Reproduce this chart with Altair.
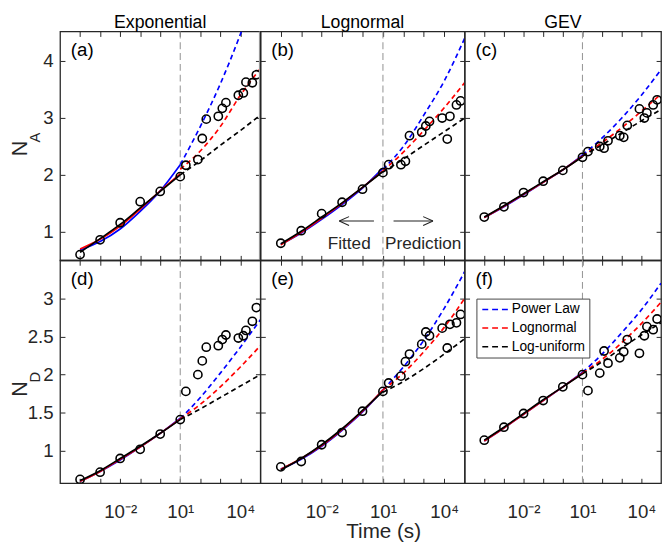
import altair as alt
import pandas as pd

FONT = "Liberation Sans"

# ---------------- data ----------------
MODELS = ["Power Law", "Lognormal", "Log-uniform"]
MODEL_COLORS = ["#0000ff", "#ff0000", "#000000"]

# observation times as powers of ten (same for every panel)
OBS_EXP = [-4, -3, -2, -1, 0, 1, 1.28, 1.88, 2.1, 2.3, 2.9, 3.1, 3.28, 3.9, 4.15, 4.28, 4.6, 4.8]
FIT_EXP = [-4, -3, -2, -1, 0, 1]
PRED_EXP = [1, 2, 3, 4, 5]
SPLIT_TIME = [10]

obs_a = [0.60, 0.86, 1.16, 1.53, 1.71, 1.97, 2.17, 2.27, 2.64, 2.98, 3.03, 3.17, 3.27, 3.40, 3.44, 3.63, 3.62, 3.76]
obs_b = [0.80, 1.02, 1.32, 1.52, 1.75, 2.04, 2.18, 2.18, 2.24, 2.69, 2.75, 2.86, 2.94, 3.00, 2.63, 3.03, 3.23, 3.30]
obs_c = [1.26, 1.44, 1.69, 1.89, 2.08, 2.31, 2.41, 2.50, 2.47, 2.60, 2.69, 2.66, 2.87, 3.16, 3.00, 3.09, 3.23, 3.32]
obs_d = [0.625, 0.72, 0.90, 1.02, 1.22, 1.41, 1.78, 2.00, 2.18, 2.36, 2.38, 2.46, 2.52, 2.48, 2.51, 2.58, 2.70, 2.88]
obs_e = [0.79, 0.86, 1.08, 1.24, 1.52, 1.78, 1.89, 1.98, 2.17, 2.27, 2.40, 2.56, 2.51, 2.61, 2.35, 2.66, 2.68, 2.79]
obs_f = [1.14, 1.31, 1.49, 1.66, 1.84, 2.00, 1.79, 2.02, 2.31, 2.15, 2.22, 2.30, 2.46, 2.28, 2.51, 2.63, 2.59, 2.73]

# fitted curves (Power Law, Lognormal, Log-uniform) at FIT_EXP
fit_a = [[0.68, 0.83, 1.05, 1.36, 1.72, 2.18], [0.70, 0.87, 1.10, 1.40, 1.72, 2.02], [0.64, 0.88, 1.13, 1.42, 1.71, 2.00]]
fit_b = [[0.78, 0.98, 1.22, 1.48, 1.77, 2.12], [0.77, 0.99, 1.24, 1.50, 1.78, 2.07], [0.79, 1.01, 1.26, 1.51, 1.78, 2.06]]
fit_c = [[1.25, 1.44, 1.65, 1.87, 2.09, 2.35], [1.25, 1.45, 1.66, 1.87, 2.09, 2.33], [1.26, 1.46, 1.67, 1.88, 2.09, 2.32]]
fit_d = [[0.60, 0.73, 0.88, 1.05, 1.23, 1.43], [0.60, 0.73, 0.89, 1.05, 1.23, 1.42], [0.61, 0.74, 0.90, 1.06, 1.23, 1.41]]
fit_e = [[0.76, 0.89, 1.06, 1.27, 1.51, 1.80], [0.76, 0.90, 1.07, 1.28, 1.52, 1.80], [0.75, 0.90, 1.08, 1.29, 1.53, 1.78]]
fit_f = [[1.13, 1.30, 1.48, 1.66, 1.84, 2.03], [1.13, 1.30, 1.48, 1.66, 1.84, 2.02], [1.14, 1.31, 1.49, 1.67, 1.84, 2.01]]

# predicted curves at PRED_EXP
pred_a = [[2.18, 2.85, 3.60, 4.47, 5.45], [2.10, 2.42, 2.85, 3.40, 3.87], [2.00, 2.25, 2.52, 2.78, 3.05]]
pred_b = [[2.10, 2.50, 3.05, 3.65, 4.40], [2.07, 2.40, 2.78, 3.18, 3.62], [2.05, 2.28, 2.52, 2.76, 3.00]]
pred_c = [[2.35, 2.65, 3.00, 3.40, 3.85], [2.33, 2.57, 2.83, 3.12, 3.42], [2.33, 2.53, 2.74, 2.95, 3.15]]
pred_d = [[1.42, 1.70, 2.02, 2.36, 2.72], [1.42, 1.61, 1.84, 2.10, 2.38], [1.41, 1.55, 1.70, 1.85, 2.00]]
pred_e = [[1.80, 2.10, 2.45, 2.87, 3.35], [1.80, 2.02, 2.30, 2.62, 3.00], [1.77, 1.91, 2.08, 2.27, 2.47]]
pred_f = [[2.03, 2.27, 2.55, 2.85, 3.20], [2.02, 2.20, 2.42, 2.67, 2.95], [2.01, 2.17, 2.35, 2.52, 2.68]]

TITLES = ["Exponential", "Lognormal", "GEV"]
TOP_YTICKS = [1, 2, 3, 4]
BOT_YTICKS = [1, 1.5, 2, 2.5, 3]
X_TICK_EXP = [-4, -3, -2, -1, 0, 1, 2, 3, 4]

# annotation in panel (b)
ANN_TEXT = ["Fitted", "Prediction"]
ANN_EXP = [-0.65, 2.97]
ANN_V = [0.79, 0.79]
ARROW_FROM_EXP = [0.56, 1.52]
ARROW_TO_EXP = [-1.14, 3.45]
ARROW_V = [1.19, 1.19]

# ---------------- layout / style ----------------
TOP_H, BOT_H = 233, 227
W = {"a": 204, "b": 208, "c": 200, "d": 204, "e": 208, "f": 200}
XMAX = 1e5

LABEL_EXPR = ("round(log(datum.value)/LN10) == -2 ? '10⁻²' : "
              "round(log(datum.value)/LN10) == 1 ? '10¹' : "
              "round(log(datum.value)/LN10) == 4 ? '10⁴' : ''")

LEGEND = alt.Legend(
    title=None, orient="none", legendX=424, legendY=272,
    symbolType="M-3,0H3", symbolSize=100, symbolDash=[6, 4], symbolStrokeWidth=1.6,
    symbolOffset=10, labelOffset=8, labelFontSize=14, labelFont=FONT, labelColor="#000",
    strokeColor="#444", fillColor="#ffffff", padding=4, rowPadding=5,
)


def color_enc():
    return alt.Color("model:N", scale=alt.Scale(domain=MODELS, range=MODEL_COLORS), legend=LEGEND)


def series_df(exps, series):
    rows = []
    for m, vals in zip(MODELS, series):
        for e, v in zip(exps, vals):
            rows.append({"t": 10.0 ** e, "v": v, "model": m})
    return pd.DataFrame(rows)


def make_panel(key, obs, fit, pred, top, first_col, title=None, xtitle=None, extras=()):
    height = TOP_H if top else BOT_H
    ydom = [0.5, 4.52] if top else [0.575, 3.5]
    yticks = TOP_YTICKS if top else BOT_YTICKS
    xsc = alt.Scale(type="log", domain=[1e-5, XMAX])
    ysc = alt.Scale(domain=ydom, nice=False, zero=False)
    xticks = [10.0 ** k for k in X_TICK_EXP]

    ax_bottom_kw = dict(orient="bottom", values=xticks, labels=not top, labelExpr=LABEL_EXPR,
                        tickSize=5, offset=-5, domain=False, grid=False, labelPadding=20,
                        labelFlush=False, labelOverlap=False, labelBound=False, title=None)
    if xtitle:
        ax_bottom_kw.update(title=xtitle, titleFontSize=21, titleFontWeight="normal", titleColor="#262626",
                            titleX=125, titleY=60, titleBaseline="alphabetic", titleAlign="center")
    ax_bottom = alt.Axis(**ax_bottom_kw)
    ax_top = alt.Axis(orient="top", values=xticks, labels=False, tickSize=5, offset=-5,
                      domain=False, grid=False, title=None)
    ax_left = alt.Axis(orient="left", values=yticks, labels=first_col, format="~g", tickSize=5,
                       offset=-5, domain=False, grid=False, labelPadding=7, title=None)
    ax_right = alt.Axis(orient="right", values=yticks, labels=False, tickSize=5, offset=-5,
                        domain=False, grid=False, title=None)

    obs_df = pd.DataFrame({"t": [10.0 ** e for e in OBS_EXP], "v": obs})

    vline = alt.Chart(pd.DataFrame({"t": SPLIT_TIME})).mark_rule(
        color="#9a9a9a", strokeDash=[7, 4], strokeWidth=1.1
    ).encode(x=alt.X("t:Q", scale=xsc, axis=None))

    fit_line = alt.Chart(series_df(FIT_EXP, fit)).mark_line(
        strokeWidth=1.7, interpolate="monotone", clip=True
    ).encode(
        x=alt.X("t:Q", scale=xsc, axis=ax_bottom),
        y=alt.Y("v:Q", scale=ysc, axis=ax_left),
        color=color_enc(),
    )
    pred_line = alt.Chart(series_df(PRED_EXP, pred)).mark_line(
        strokeWidth=1.7, strokeDash=[5, 3.5], interpolate="monotone", clip=True
    ).encode(
        x=alt.X("t:Q", scale=xsc, axis=ax_top),
        y=alt.Y("v:Q", scale=ysc, axis=ax_right),
        color=color_enc(),
    )
    pts = alt.Chart(obs_df).mark_point(
        shape="circle", filled=False, color="#000000", size=70, strokeWidth=1.6, opacity=1, clip=True
    ).encode(
        x=alt.X("t:Q", scale=xsc, axis=None),
        y=alt.Y("v:Q", scale=ysc, axis=None),
    )
    label = alt.Chart(pd.DataFrame({"s": [f"({key})"]})).mark_text(
        align="left", baseline="middle", fontSize=19, font=FONT, color="#000"
    ).encode(x=alt.value(11), y=alt.value(19), text="s:N")

    layers = [vline, fit_line, pred_line, pts, label]
    if title:
        layers.append(alt.Chart(pd.DataFrame({"s": [title]})).mark_text(
            align="center", baseline="alphabetic", fontSize=18, font=FONT, color="#000"
        ).encode(x=alt.value(W[key] / 2), y=alt.value(-4), text="s:N"))
    for ex in extras:
        layers.append(ex(xsc, ysc))
    ch = alt.layer(*layers).resolve_axis(x="independent", y="independent").properties(
        width=W[key], height=height
    )
    return ch


def ylabel(main, sub, y_main, y_sub):
    def build(xsc, ysc):
        m = alt.Chart(pd.DataFrame({"s": [main]})).mark_text(
            angle=270, align="center", baseline="middle", fontSize=22, font=FONT, color="#262626"
        ).encode(x=alt.value(-41), y=alt.value(y_main), text="s:N")
        s = alt.Chart(pd.DataFrame({"s": [sub]})).mark_text(
            angle=270, align="center", baseline="middle", fontSize=15, font=FONT, color="#262626"
        ).encode(x=alt.value(-25), y=alt.value(y_sub), text="s:N")
        return alt.layer(m, s)
    return build


def annotations(xsc, ysc):
    txt = alt.Chart(pd.DataFrame({"t": [10.0 ** e for e in ANN_EXP], "v": ANN_V, "s": ANN_TEXT})).mark_text(
        fontSize=17.5, font=FONT, color="#262626", baseline="middle"
    ).encode(x=alt.X("t:Q", scale=xsc, axis=None), y=alt.Y("v:Q", scale=ysc, axis=None), text="s:N")
    arr_df = pd.DataFrame({"t1": [10.0 ** e for e in ARROW_FROM_EXP],
                           "t2": [10.0 ** e for e in ARROW_TO_EXP], "v": ARROW_V})
    shaft = alt.Chart(arr_df).mark_rule(color="#222", strokeWidth=1.1).encode(
        x=alt.X("t1:Q", scale=xsc, axis=None), x2="t2:Q", y=alt.Y("v:Q", scale=ysc, axis=None))
    head_l = alt.Chart(arr_df.iloc[[0]]).mark_point(
        shape="M0,0L2,-0.9M0,0L2,0.9", filled=False, color="#222", size=100, strokeWidth=1.1, opacity=1
    ).encode(x=alt.X("t2:Q", scale=xsc, axis=None), y=alt.Y("v:Q", scale=ysc, axis=None))
    head_r = alt.Chart(arr_df.iloc[[1]]).mark_point(
        shape="M0,0L-2,-0.9M0,0L-2,0.9", filled=False, color="#222", size=100, strokeWidth=1.1, opacity=1
    ).encode(x=alt.X("t2:Q", scale=xsc, axis=None), y=alt.Y("v:Q", scale=ysc, axis=None))
    return alt.layer(txt, shaft, head_l, head_r)


def edge_band(xsc, ysc):
    return alt.Chart(pd.DataFrame({"t": [XMAX]})).mark_rule(color="#a0a0a0", strokeWidth=3).encode(
        x=alt.X("t:Q", scale=xsc, axis=None))


pa = make_panel("a", obs_a, fit_a, pred_a, True, True, title=TITLES[0],
                extras=(ylabel("N", "A", 119, 108), edge_band))
pb = make_panel("b", obs_b, fit_b, pred_b, True, False, title=TITLES[1], extras=(annotations,))
pc = make_panel("c", obs_c, fit_c, pred_c, True, False, title=TITLES[2])
pd_ = make_panel("d", obs_d, fit_d, pred_d, False, True, extras=(ylabel("N", "D", 131, 119),))
pe = make_panel("e", obs_e, fit_e, pred_e, False, False, xtitle="Time (s)")
pf = make_panel("f", obs_f, fit_f, pred_f, False, False)

chart = alt.concat(pa, pb, pc, pd_, pe, pf, columns=3, spacing=0, bounds="flush", align="each").properties(
    padding={"left": 0, "top": 0, "right": 0, "bottom": 0}
).configure_view(
    stroke="#262626", strokeWidth=1.3
).configure_axis(
    labelFont=FONT, labelFontSize=19, labelColor="#262626", tickColor="#262626", tickWidth=1, titleFont=FONT
)

chart.save("out.html", embed_options={"renderer": "svg", "actions": False})
